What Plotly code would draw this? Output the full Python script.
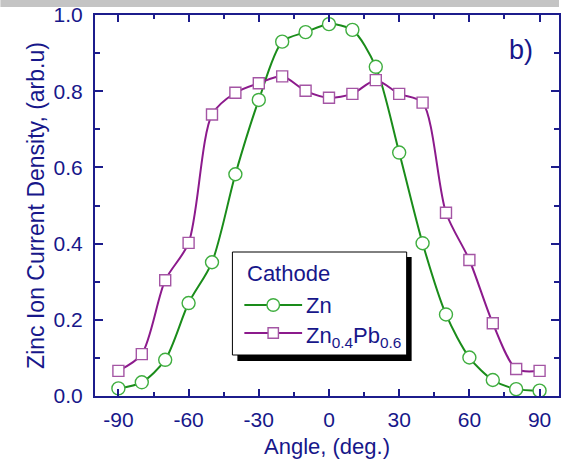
import plotly.graph_objects as go

# ---- data ----
angles = [-90, -80, -70, -60, -50, -40, -30, -20, -10, 0, 10, 20, 30, 40, 50, 60, 70, 80, 90]
zn = [0.020, 0.036, 0.095, 0.244, 0.351, 0.582, 0.777, 0.930, 0.955, 0.976,
      0.961, 0.864, 0.639, 0.401, 0.214, 0.101, 0.042, 0.018, 0.014]
znpb = [0.066, 0.110, 0.304, 0.402, 0.739, 0.796, 0.821, 0.839, 0.801, 0.783,
        0.793, 0.829, 0.793, 0.770, 0.481, 0.357, 0.191, 0.071, 0.066]
x_ticks = [-90, -60, -30, 0, 30, 60, 90]
x_tick_labels = ["-90", "-60", "-30", "0", "30", "60", "90"]
y_ticks = [0.0, 0.2, 0.4, 0.6, 0.8, 1.0]
y_tick_labels = ["0.0", "0.2", "0.4", "0.6", "0.8", "1.0"]
series_names = ["Zn", "Zn<sub>0.4</sub>Pb<sub>0.6</sub>"]
legend_title = "Cathode"

W, H = 561, 459
ML, MT, MB, MR = 95, 15, 63, 0
PW = W - ML - MR
PH = H - MT - MB

def px(xp):
    return (xp - ML) / PW

def py(yp):
    return (H - MB - yp) / PH

NAVY = "#17178a"
AXIS = "#1c1c8c"
GREEN = "#1a8c1a"
GREEN_M = "#3fae3f"
PURPLE = "#8c1a8c"
PURPLE_M = "#a455a4"
FONT = "Liberation Sans, Arial, sans-serif"

fig = go.Figure()
fig.add_trace(go.Scatter(
    x=angles, y=zn, name=series_names[0], mode="lines+markers",
    line=dict(color=GREEN, width=2, shape="spline", smoothing=0.8),
    marker=dict(symbol="circle", size=13, color="white",
                line=dict(color=GREEN_M, width=1.4)),
    showlegend=False,
))
fig.add_trace(go.Scatter(
    x=angles, y=znpb, name=series_names[1], mode="lines+markers",
    line=dict(color=PURPLE, width=2, shape="spline", smoothing=0.8),
    marker=dict(symbol="square", size=11, color="white",
                line=dict(color=PURPLE_M, width=1.4)),
    showlegend=False,
))

axis_common = dict(
    showline=True, linecolor=AXIS, linewidth=2, mirror="allticks",
    ticks="inside", tickcolor=AXIS, tickwidth=2,
    showgrid=False, zeroline=False,
    tickfont=dict(family=FONT, size=21, color=NAVY),
)

fig.update_xaxes(
    range=[-100, -100 + (W - ML - MR) / 2.35],
    tickvals=x_ticks, ticktext=x_tick_labels, ticklen=7,
    minor=dict(dtick=15, tick0=-90, ticklen=4, tickcolor=AXIS, tickwidth=2, ticks="inside"),
    title=dict(text="Angle, (deg.)", font=dict(family=FONT, size=22, color=NAVY), standoff=11),
    ticklabelstandoff=4,
    **axis_common,
)
fig.update_yaxes(
    range=[0, 1.0],
    tickvals=y_ticks, ticktext=y_tick_labels, ticklen=8,
    minor=dict(dtick=0.1, tick0=0, ticklen=5, tickcolor=AXIS, tickwidth=2, ticks="inside"),
    title=dict(text="Zinc Ion Current Density, (arb.u)",
               font=dict(family=FONT, size=23, color=NAVY), standoff=3),
    ticklabelstandoff=6,
    **axis_common,
)

# grey strip at the top of the picture
fig.add_shape(type="rect", xref="paper", yref="paper",
              x0=px(0), x1=px(W), y0=py(7), y1=py(0),
              fillcolor="#c4c4c4", line=dict(width=0), layer="above")

# ---- legend box with drop shadow ----
fig.add_shape(type="rect", xref="paper", yref="paper",
              x0=px(238), x1=px(413), y0=py(361), y1=py(257),
              fillcolor="black", line=dict(width=0), layer="above")
fig.add_shape(type="rect", xref="paper", yref="paper",
              x0=px(233), x1=px(408), y0=py(355), y1=py(252),
              fillcolor="white", line=dict(color="black", width=1), layer="above")
fig.add_annotation(text=legend_title, xref="paper", yref="paper",
                   x=px(246), y=py(273), xanchor="left", yanchor="middle",
                   showarrow=False, font=dict(family=FONT, size=22, color=NAVY))

rows = [(305, GREEN, GREEN_M, "circle", 6.3), (333, PURPLE, PURPLE_M, "rect", 5.2)]
for (ry, lc, mc, kind, r), name in zip(rows, series_names):
    fig.add_shape(type="line", xref="paper", yref="paper",
                  x0=px(245), x1=px(303), y0=py(ry), y1=py(ry),
                  line=dict(color=lc, width=2), layer="above")
    fig.add_shape(type=kind, xref="paper", yref="paper",
                  x0=px(274 - r), x1=px(274 + r), y0=py(ry + r), y1=py(ry - r),
                  fillcolor="white", line=dict(color=mc, width=1.4), layer="above")
    fig.add_annotation(text=name, xref="paper", yref="paper",
                       x=px(305), y=py(ry), xanchor="left", yanchor="middle",
                       yshift=0 if kind == "circle" else -4,
                       showarrow=False, font=dict(family=FONT, size=22, color=NAVY))

fig.add_annotation(text="b)", xref="paper", yref="paper",
                   x=px(523), y=py(50), xanchor="center", yanchor="middle",
                   showarrow=False,
                   font=dict(family=FONT, size=27, color=NAVY))

fig.update_layout(
    width=W, height=H,
    margin=dict(l=ML, r=MR, t=MT, b=MB, pad=0),
    paper_bgcolor="white", plot_bgcolor="white",
    showlegend=False,
)

fig.write_html("out.html")
